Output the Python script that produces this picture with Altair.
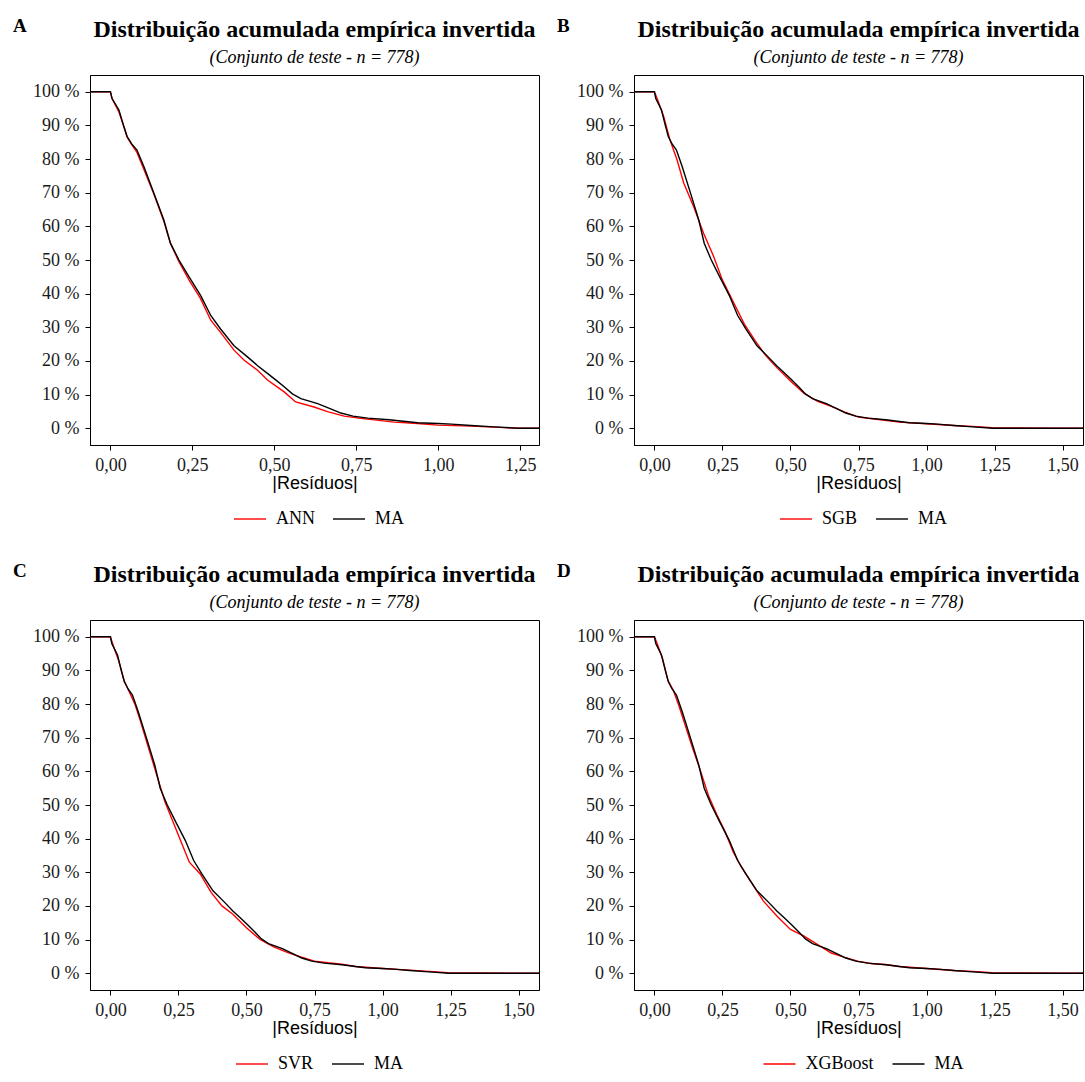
import altair as alt
import pandas as pd

SERIF = "Liberation Serif"
SANS = "Liberation Sans"

TITLE = "Distribuição acumulada empírica invertida"
SUBTITLE = "(Conjunto de teste - n = 778)"
X_TITLE = "|Resíduos|"
LETTERS = ["A", "B", "C", "D"]
MODELS = ["ANN", "SGB", "SVR", "XGBoost"]
REF = "MA"

ma_x = [0.0, 0.005, 0.026, 0.04, 0.051, 0.065, 0.081, 0.102, 0.133, 0.163, 0.183, 0.209,
        0.24, 0.275, 0.306, 0.336, 0.377, 0.418, 0.45, 0.479, 0.505, 0.53, 0.555, 0.581,
        0.632, 0.67, 0.703, 0.74, 0.785, 0.85, 0.937, 1.0, 1.04, 1.1, 1.17, 1.245]
ma_y = [1.0, 0.98, 0.946, 0.90, 0.867, 0.845, 0.827, 0.778, 0.698, 0.619, 0.55, 0.50,
        0.45, 0.395, 0.335, 0.295, 0.245, 0.212, 0.185, 0.163, 0.143, 0.123, 0.102, 0.088,
        0.073, 0.058, 0.045, 0.036, 0.030, 0.025, 0.016, 0.014, 0.012, 0.008, 0.004, 0.0]

ann_x = [0.0, 0.005, 0.026, 0.04, 0.051, 0.065, 0.081, 0.102, 0.133, 0.163, 0.183, 0.209,
         0.24, 0.275, 0.306, 0.336, 0.377, 0.408, 0.448, 0.479, 0.53, 0.565, 0.621, 0.662,
         0.713, 0.764, 0.866, 0.937, 0.998, 1.1, 1.17, 1.24]
ann_y = [1.0, 0.98, 0.94, 0.90, 0.865, 0.843, 0.82, 0.77, 0.695, 0.615, 0.55, 0.495,
         0.44, 0.385, 0.321, 0.285, 0.232, 0.202, 0.173, 0.143, 0.108, 0.078, 0.063, 0.049,
         0.036, 0.029, 0.018, 0.014, 0.009, 0.006, 0.003, 0.0]

sgb_x = [0.0, 0.01, 0.034, 0.056, 0.083, 0.108, 0.144, 0.181, 0.218, 0.25, 0.29, 0.33,
         0.37, 0.41, 0.45, 0.5, 0.55, 0.6, 0.65, 0.7, 0.75, 0.8, 0.9, 1.0, 1.1, 1.2, 1.24, 1.5]
sgb_y = [1.0, 0.98, 0.927, 0.86, 0.798, 0.728, 0.659, 0.579, 0.51, 0.44, 0.375, 0.31,
         0.26, 0.215, 0.18, 0.14, 0.103, 0.08, 0.065, 0.048, 0.033, 0.028, 0.018, 0.013,
         0.008, 0.004, 0.0013, 0.0]

svr_x = [0.0, 0.01, 0.03, 0.05, 0.07, 0.09, 0.11, 0.14, 0.17, 0.2, 0.23, 0.26, 0.29,
         0.33, 0.37, 0.41, 0.45, 0.5, 0.55, 0.6, 0.65, 0.7, 0.75, 0.8, 0.85, 0.9, 1.0,
         1.1, 1.2, 1.24, 1.5]
svr_y = [1.0, 0.975, 0.93, 0.87, 0.835, 0.80, 0.75, 0.67, 0.59, 0.51, 0.45, 0.39, 0.33,
         0.295, 0.24, 0.20, 0.175, 0.135, 0.10, 0.078, 0.062, 0.048, 0.036, 0.031, 0.027,
         0.02, 0.014, 0.009, 0.004, 0.0013, 0.0]

xgb_x = [0.0, 0.01, 0.03, 0.05, 0.07, 0.09, 0.11, 0.14, 0.17, 0.2, 0.23, 0.26, 0.29,
         0.32, 0.36, 0.4, 0.45, 0.5, 0.55, 0.6, 0.65, 0.7, 0.75, 0.8, 0.85, 0.9, 1.0,
         1.1, 1.2, 1.24, 1.5]
xgb_y = [1.0, 0.98, 0.935, 0.87, 0.84, 0.795, 0.745, 0.67, 0.60, 0.525, 0.47, 0.42, 0.36,
         0.315, 0.265, 0.215, 0.17, 0.13, 0.11, 0.085, 0.06, 0.047, 0.035, 0.028, 0.026,
         0.02, 0.014, 0.008, 0.004, 0.0013, 0.0]

MODEL_X = [ann_x, sgb_x, svr_x, xgb_x]
MODEL_Y = [ann_y, sgb_y, svr_y, xgb_y]

X_DOMAINS = [[-0.06225, 1.30725], [-0.075, 1.575], [-0.075, 1.575], [-0.075, 1.575]]
X_TICKS = [[0, 0.25, 0.5, 0.75, 1.0, 1.25], [0, 0.25, 0.5, 0.75, 1.0, 1.25, 1.5],
           [0, 0.25, 0.5, 0.75, 1.0, 1.25, 1.5], [0, 0.25, 0.5, 0.75, 1.0, 1.25, 1.5]]
Y_TICKS = [0, 0.1, 0.2, 0.3, 0.4, 0.5, 0.6, 0.7, 0.8, 0.9, 1.0]

W, H = 449, 370
LABEL_W = {"ANN": 39, "SGB": 35, "SVR": 35, "XGBoost": 68, "MA": 29}


def series_rows(name, xs, ys, dom):
    rows = [{"serie": name, "x": dom[0], "y": 1.0}]
    rows += [{"serie": name, "x": a, "y": b} for a, b in zip(xs, ys)]
    rows.append({"serie": name, "x": dom[1], "y": 0.0})
    return rows


def panel(i):
    model = MODELS[i]
    dom = X_DOMAINS[i]
    df = pd.DataFrame(series_rows(model, MODEL_X[i], MODEL_Y[i], dom)
                      + series_rows(REF, ma_x, ma_y, dom))
    df["ordem"] = range(len(df))
    leg_w = 126 + LABEL_W[model]
    lines = alt.Chart(df).mark_line(strokeWidth=1.4, clip=True).encode(
        x=alt.X("x:Q", scale=alt.Scale(domain=dom, nice=False, zero=False),
                axis=alt.Axis(values=X_TICKS[i], title=X_TITLE,
                              labelExpr="replace(format(datum.value, '.2f'), '.', ',')")),
        y=alt.Y("y:Q", scale=alt.Scale(domain=[-0.05, 1.05], nice=False, zero=False),
                axis=alt.Axis(values=Y_TICKS, title=None,
                              labelExpr="format(datum.value * 100, 'd') + ' %'")),
        color=alt.Color("serie:N",
                        scale=alt.Scale(domain=[model, REF], range=["#FF0000", "#000000"]),
                        legend=alt.Legend(orient="none", direction="horizontal",
                                          legendX=W / 2 + 1 - leg_w / 2, legendY=427,
                                          title=None, symbolType="stroke",
                                          symbolSize=1024, symbolStrokeWidth=1.4,
                                          labelFont=SERIF, labelFontSize=18,
                                          labelColor="black", labelOffset=9,
                                          columnPadding=15)),
        order="ordem:Q",
    )
    letter = alt.Chart(pd.DataFrame({"letra": [LETTERS[i]]})).mark_text(
        font=SERIF, fontSize=19, fontWeight="bold", align="left",
        baseline="alphabetic", color="black"
    ).encode(text="letra:N", x=alt.value(-77), y=alt.value(-43))
    return alt.layer(lines, letter).properties(
        width=W, height=H,
        title=alt.TitleParams(text=TITLE, subtitle=SUBTITLE, anchor="middle", frame="group",
                              font=SERIF, fontSize=24, fontWeight="bold", color="black",
                              subtitleFont=SERIF, subtitleFontSize=18,
                              subtitleFontStyle="italic", subtitleColor="black",
                              subtitlePadding=7, offset=-50),
    ).resolve_scale(color="independent").resolve_legend(color="independent")


chart = alt.concat(panel(0), panel(1), panel(2), panel(3), columns=2,
                   spacing={"row": 175, "column": 95}, bounds="flush").resolve_scale(
    color="independent", x="independent", y="independent"
).resolve_legend(color="independent").properties(
    padding={"left": 12, "top": 16, "right": 0, "bottom": 0},
    background="white",
).configure_view(stroke="black", strokeWidth=1).configure_axis(
    grid=False, domainColor="black", tickColor="black", tickSize=5,
    labelFont=SERIF, labelFontSize=18, labelColor="#1a1a1a", labelPadding=6,
    titleFont=SANS, titleFontSize=18, titleFontWeight="normal", titleColor="black",
    titlePadding=0,
)

chart.save("out.html", embed_options={"renderer": "svg", "actions": False})
